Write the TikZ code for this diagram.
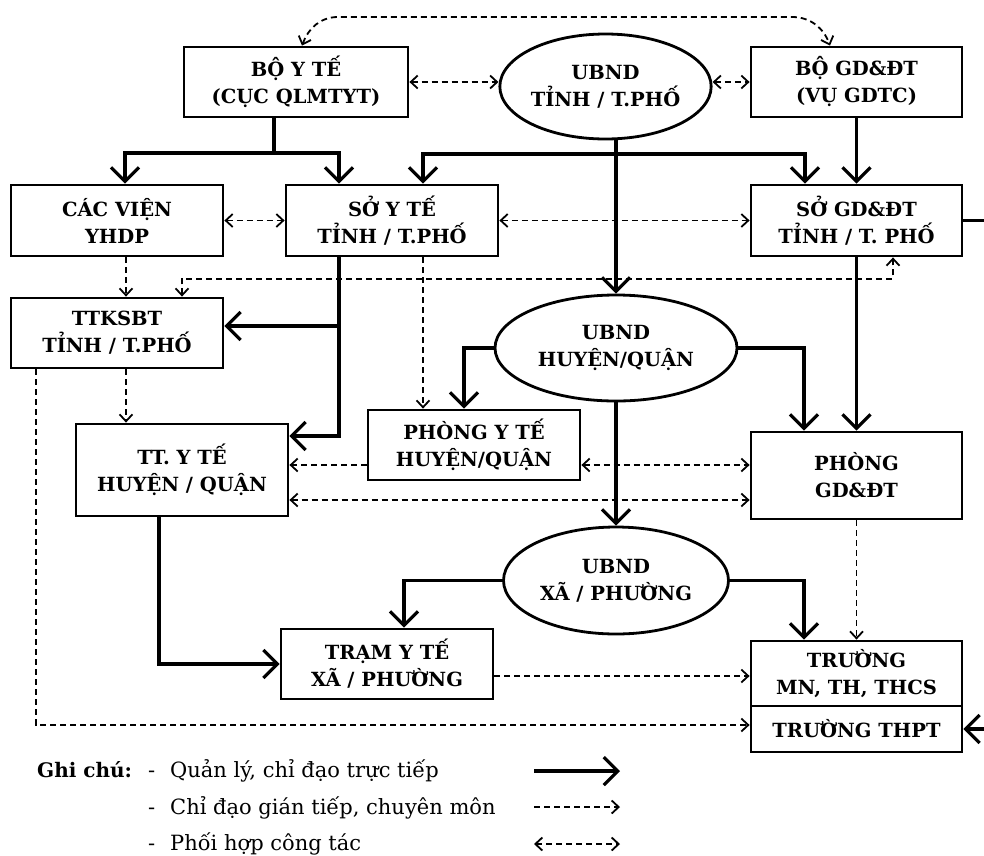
\documentclass[tikz,border=0pt]{standalone}
\usepackage{fontspec}
\setmainfont{DejaVu Serif}
\usetikzlibrary{arrows.meta,shapes.geometric}

\tikzset{
  box/.style={draw, line width=2.8pt, minimum width=212, minimum height=70,
    align=center, inner sep=1pt, font=\bfseries\fontsize{19.5}{27}\selectfont},
  oval/.style={ellipse, draw, line width=2.8pt, align=center, inner sep=0pt,
    font=\bfseries\fontsize{19.5}{27}\selectfont},
  ctrl/.style={line width=3.2pt, -{Straight Barb[length=14pt,width=28pt]}},
  ind/.style={line width=1.8pt, dash pattern=on 6pt off 4pt,
    -{Straight Barb[length=7pt,width=13pt]}},
  coop/.style={ind, {Straight Barb[length=7pt,width=13pt]}-{Straight Barb[length=7pt,width=13pt]}},
  legend/.style={anchor=base west, inner sep=0pt, font=\fontsize{21}{24}\selectfont},
}

\begin{document}
\begin{tikzpicture}[x=1pt, y=-1pt]
    %\draw[style=help lines,very thin] (0, 0) grid[step=50] (984, 855);
    \useasboundingbox (0,0) rectangle (984,855);

    \node[box, minimum width=224] (BYT) at (296,82) {BỘ Y TẾ\\(CỤC QLMTYT)};
    \node[oval, minimum width=205, minimum height=105] (UBT) at (605.5,86.5) {UBND\\TỈNH / T.PHỐ};
    \node[box, minimum width=211] (BGD) at (856.5,82) {BỘ GD\&ĐT\\(VỤ GDTC)};
    \node[box, minimum height=71] (VIEN) at (117,220.5) {CÁC VIỆN\\YHDP};
    \node[box, minimum height=71] (SYT) at (392,220.5) {SỞ Y TẾ\\TỈNH / T.PHỐ};
    \node[box, minimum width=211, minimum height=71] (SGD) at (856.5,220.5) {SỞ GD\&ĐT\\TỈNH / T. PHỐ};
    \node[box] (TTK) at (117,333) {TTKSBT\\TỈNH / T.PHỐ};
    \node[oval, minimum width=242, minimum height=106] (UBH) at (616,348) {UBND\\HUYỆN/QUẬN};
    \node[box] (PYT) at (474,445) {PHÒNG Y TẾ\\HUYỆN/QUẬN};
    \node[box, minimum height=92] (TTY) at (182,470) {TT. Y TẾ\\HUYỆN / QUẬN};
    \node[box, minimum width=211, minimum height=87] (PGD) at (856.5,475.5) {PHÒNG\\GD\&ĐT};
    \node[oval, minimum width=225, minimum height=107] (UBX) at (616,580.5) {UBND\\XÃ / PHƯỜNG};
    \node[box] (TRAM) at (387,664) {TRẠM Y TẾ\\XÃ / PHƯỜNG};
    \node[box, minimum width=211, minimum height=65] (TRG) at (856.5,673.5) {TRƯỜNG\\MN, TH, THCS};
    \node[box, minimum width=211, minimum height=46] (THPT) at (856.5,729) {TRƯỜNG THPT};

    % quan ly, chi dao truc tiep
    \coordinate (JB) at (274,153);
    \coordinate (JU) at (616,154);
    \coordinate (JS) at (339,436);
    \coordinate (TTKIN) at ([yshift=7]TTK.east);
    \draw[line width=3.2pt] (BYT.south -| JB) -- (JB);
    \draw[ctrl] (JB) -| ([xshift=8]VIEN.north);
    \draw[ctrl] (JB) -| ([xshift=-53]SYT.north);
    \draw[ctrl] (UBT.south -| JU) -- (UBH.north);
    \draw[ctrl] (JU) -| ([xshift=31]SYT.north);
    \draw[ctrl] (JU) -| ([xshift=-51.5]SGD.north);
    \draw[ctrl] (BGD.south) -- (SGD.north);
    \draw[ctrl] (SGD.south) -- (PGD.north);
    \draw[ctrl] (SYT.south -| JS) -- (JS) -- (JS -| TTY.east);
    \draw[ctrl] (TTKIN -| JS) -- (TTKIN);
    \draw[ctrl] (UBH.west) -| ([xshift=-10]PYT.north);
    \draw[ctrl] (UBH.east) -| ([xshift=-52.5]PGD.north);
    \draw[ctrl] (UBH.south) -- (UBX.north);
    \draw[ctrl] (UBX.west) -| ([xshift=17]TRAM.north);
    \draw[ctrl] (UBX.east) -| ([xshift=-52.5]TRG.north);
    \draw[ctrl] ([xshift=-23]TTY.south) |- (TRAM.west);
    \draw[ctrl] (SGD.east) -- ++(40,0) |- (THPT.east);

    % chi dao gian tiep, chuyen mon
    \draw[ind] ([xshift=9]VIEN.south) -- ([xshift=9]TTK.north);
    \draw[ind] ([xshift=9]TTK.south) -- ([xshift=-56]TTY.north);
    \draw[ind] ([xshift=31]SYT.south) -- ([xshift=-51]PYT.north);
    \draw[ind] ([yshift=-20]PYT.west) -- ([yshift=5]TTY.east);
    \draw[ind] (PGD.south) -- (TRG.north);
    \draw[ind] ([yshift=-12]TRAM.east) -- ([yshift=-2.5]TRG.west);
    \draw[ind] ([xshift=-81]TTK.south) |- ([yshift=4]THPT.west);

    % phoi hop cong tac
    \coordinate (TL) at (338,17);
    \coordinate (TR) at (792,17);
    \draw[coop] ([xshift=6]BYT.north) to[out=70,in=180] (TL) -- (TR) to[out=0,in=110] ([xshift=-26.5]BGD.north);
    \draw[coop] (BYT.east) -- (BYT.east -| UBT.west);
    \draw[coop] (BGD.west -| UBT.east) -- (BGD.west);
    \draw[coop] (VIEN.east) -- (SYT.west);
    \draw[coop] (SYT.east) -- (SGD.west);
    \draw[coop] ([yshift=-20]PYT.east) -- ([yshift=10.5]PGD.west);
    \draw[coop] ([yshift=-30]TTY.east) -- ([yshift=-24.5]PGD.west);
    \draw[coop] ([xshift=65]TTK.north) -- ++(0,-18) -| ([xshift=36.5]SGD.south);

    % ghi chu
    \node[legend, font=\bfseries\fontsize{20}{24}\selectfont] (GC) at (37,777) {Ghi chú:};
    \node[legend] (D1) at (148,777) {-};
    \node[legend] (D2) at (148,814) {-};
    \node[legend] (D3) at (148,850) {-};
    \node[legend] (L1) at (170,777) {Quản lý, chỉ đạo trực tiếp};
    \node[legend] (L2) at (170,814) {Chỉ đạo gián tiếp, chuyên môn};
    \node[legend] (L3) at (170,850) {Phối hợp công tác};
    \coordinate (A1) at (534,771);
    \coordinate (B1) at (620,771);
    \coordinate (A2) at (534,807);
    \coordinate (B2) at (620,807);
    \coordinate (A3) at (534,844);
    \coordinate (B3) at (620,844);
    \draw[ctrl] (A1) -- (B1);
    \draw[ind] (A2) -- (B2);
    \draw[coop] (A3) -- (B3);
\end{tikzpicture}
\end{document}
